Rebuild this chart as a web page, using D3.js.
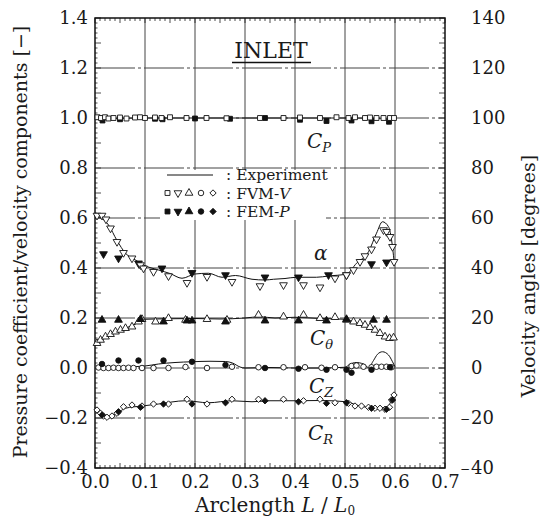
<!DOCTYPE html>
<html>
<head>
<meta charset="utf-8">
<script src="https://cdn.jsdelivr.net/npm/d3@7"></script>
<style>
  body { margin: 0; background: #fff; }
  svg text { font-family: "DejaVu Serif", serif; fill: #1a1a1a; }
</style>
</head>
<body>
<svg id="chart" width="542" height="519"></svg>
<script>
// ---- values ----
const xTicks = [0, 0.1, 0.2, 0.3, 0.4, 0.5, 0.6, 0.7];
const yTicks = [-0.4, -0.2, 0, 0.2, 0.4, 0.6, 0.8, 1.0, 1.2, 1.4];
const degTicks = [-40, -20, 0, 20, 40, 60, 80, 100, 120, 140];

// C_P
const cpExpL = [0, 0.02, 0.1, 0.3, 0.5, 0.6];
const cpExp  = [0.996, 0.998, 1.0, 1.0, 1.0, 0.999];
const cpFvmL = [0.005, 0.012, 0.02, 0.027, 0.037, 0.05, 0.063, 0.08, 0.09, 0.1, 0.12, 0.133, 0.15, 0.183, 0.223, 0.263, 0.33, 0.377, 0.41, 0.45, 0.483, 0.507, 0.52, 0.54, 0.55, 0.563, 0.577, 0.59, 0.598];
const cpFvm  = [1.003, 1.0, 1.003, 0.998, 1.0, 1.002, 0.998, 1.002, 1.003, 1.0, 1.002, 1.0, 1.003, 1.0, 1.0, 0.999, 1.0, 1.0, 1.002, 1.0, 1.003, 1.0, 1.003, 1.0, 1.002, 1.0, 1.0, 1.0, 1.0];
const cpFemL = [0.015, 0.05, 0.12, 0.135, 0.2, 0.27, 0.34, 0.41, 0.463, 0.513, 0.553, 0.588];
const cpFem  = [0.99, 0.995, 0.997, 0.995, 0.998, 0.997, 1.0, 0.993, 0.988, 0.99, 0.987, 0.985];

// alpha [degrees], right axis
const alExpL = [0.002, 0.027, 0.044, 0.061, 0.081, 0.097, 0.127, 0.15, 0.174, 0.2, 0.227, 0.254, 0.281, 0.314, 0.34, 0.357, 0.38, 0.403, 0.443, 0.467, 0.503, 0.523, 0.547, 0.563, 0.575, 0.587, 0.594, 0.598];
const alExp  = [61, 57.2, 51, 45.9, 43.2, 41.2, 39.2, 37.8, 35.9, 37.6, 37.9, 36.3, 37, 35.5, 35.2, 35.5, 35.8, 36.3, 36.3, 36.8, 37.6, 41.9, 46.5, 53.9, 58.5, 56.5, 50, 43];
const alFvmL = [0.004, 0.014, 0.022, 0.031, 0.044, 0.057, 0.074, 0.091, 0.097, 0.117, 0.147, 0.184, 0.224, 0.274, 0.33, 0.377, 0.417, 0.45, 0.48, 0.503, 0.517, 0.53, 0.54, 0.553, 0.563, 0.577, 0.583, 0.59, 0.595, 0.598];
const alFvm  = [61, 61, 59.5, 55.9, 50.5, 46.1, 43.9, 41.2, 39.9, 38.5, 36.8, 34.1, 36.5, 34.5, 32.8, 33.2, 33.2, 32.3, 35.9, 37.2, 39.2, 42.5, 44.8, 47.5, 51.5, 55.2, 54.5, 52.5, 48.5, 42.5];
const alFemL = [0.017, 0.047, 0.087, 0.134, 0.194, 0.261, 0.34, 0.407, 0.467, 0.503, 0.553, 0.583];
const alFem  = [45.6, 43.9, 41.9, 39.9, 38.1, 37.2, 36.3, 36.3, 37.2, 37.2, 41.6, 42.3];

// C_theta
const ctExpL = [0.0, 0.02, 0.05, 0.08, 0.1, 0.15, 0.2, 0.25, 0.3, 0.33, 0.36, 0.4, 0.45, 0.5, 0.523, 0.557, 0.583, 0.6];
const ctExp  = [0.09, 0.12, 0.15, 0.175, 0.195, 0.197, 0.198, 0.196, 0.2, 0.205, 0.2, 0.203, 0.198, 0.195, 0.18, 0.159, 0.125, 0.118];
const ctFvmL = [0.004, 0.011, 0.021, 0.031, 0.041, 0.051, 0.061, 0.074, 0.087, 0.094, 0.121, 0.147, 0.181, 0.224, 0.264, 0.327, 0.377, 0.417, 0.45, 0.48, 0.503, 0.517, 0.53, 0.54, 0.55, 0.56, 0.57, 0.58, 0.589, 0.597];
const ctFvm  = [0.099, 0.112, 0.125, 0.135, 0.145, 0.152, 0.159, 0.165, 0.185, 0.195, 0.185, 0.199, 0.192, 0.195, 0.192, 0.212, 0.205, 0.212, 0.199, 0.203, 0.192, 0.185, 0.179, 0.172, 0.163, 0.152, 0.139, 0.125, 0.119, 0.121];
const ctFemL = [0.014, 0.047, 0.091, 0.137, 0.184, 0.194, 0.261, 0.34, 0.407, 0.463, 0.503, 0.557, 0.583];
const ctFem  = [0.192, 0.192, 0.195, 0.185, 0.189, 0.189, 0.185, 0.189, 0.189, 0.189, 0.195, 0.192, 0.192];

// C_Z
const czExpL = [0, 0.05, 0.1, 0.127, 0.16, 0.194, 0.23, 0.261, 0.275, 0.29, 0.3, 0.35, 0.4, 0.45, 0.5, 0.51, 0.522, 0.537, 0.547, 0.557, 0.565, 0.575, 0.587, 0.595, 0.6];
const czExp  = [0.0, 0.003, 0.008, 0.016, 0.022, 0.025, 0.027, 0.026, 0.02, 0.004, 0.0, 0.002, 0.0, 0.0, 0.003, 0.015, 0.022, 0.016, 0.002, 0.03, 0.055, 0.065, 0.052, 0.025, 0.005];
const czFvmL = [0.007, 0.017, 0.027, 0.037, 0.047, 0.057, 0.067, 0.077, 0.094, 0.117, 0.147, 0.181, 0.224, 0.274, 0.327, 0.377, 0.42, 0.453, 0.48, 0.513, 0.523, 0.537, 0.553, 0.563, 0.573, 0.583, 0.593];
const czFvm  = [0.002, 0, 0, 0.001, 0, 0, 0.001, 0, 0, 0, 0, 0.004, 0, 0.005, 0.003, 0.003, 0.003, 0.001, 0.003, 0.008, 0.01, 0.005, 0.003, 0.005, 0.005, 0.005, 0.003];
const czFemL = [0.014, 0.047, 0.087, 0.137, 0.194, 0.261, 0.34, 0.407, 0.463, 0.503, 0.513, 0.553, 0.59];
const czFem  = [0.016, 0.03, 0.03, 0.03, 0.025, 0.012, 0, -0.003, -0.007, -0.007, -0.019, -0.007, 0.003];

// C_R
const crExpL = [0, 0.011, 0.027, 0.044, 0.061, 0.094, 0.127, 0.181, 0.227, 0.274, 0.314, 0.35, 0.4, 0.45, 0.503, 0.523, 0.543, 0.57, 0.583, 0.59, 0.598];
const crExp  = [-0.158, -0.181, -0.195, -0.181, -0.161, -0.152, -0.144, -0.131, -0.139, -0.131, -0.135, -0.131, -0.131, -0.13, -0.135, -0.148, -0.157, -0.165, -0.161, -0.141, -0.101];
const crFvmL = [0.004, 0.011, 0.017, 0.024, 0.034, 0.044, 0.057, 0.074, 0.094, 0.117, 0.147, 0.184, 0.224, 0.274, 0.327, 0.377, 0.417, 0.45, 0.48, 0.507, 0.52, 0.533, 0.547, 0.56, 0.57, 0.58, 0.589, 0.593, 0.598];
const crFvm  = [-0.168, -0.181, -0.192, -0.197, -0.192, -0.181, -0.155, -0.148, -0.152, -0.144, -0.144, -0.125, -0.144, -0.125, -0.125, -0.125, -0.131, -0.125, -0.139, -0.141, -0.152, -0.152, -0.157, -0.161, -0.161, -0.165, -0.157, -0.128, -0.108];
const crFemL = [0.014, 0.047, 0.091, 0.137, 0.194, 0.261, 0.34, 0.407, 0.463, 0.503, 0.553, 0.583, 0.595];
const crFem  = [-0.188, -0.175, -0.157, -0.144, -0.144, -0.139, -0.131, -0.135, -0.141, -0.139, -0.161, -0.165, -0.128];

// ---- layout ----
var svg = d3.select("#chart");
var pLeft = 95, pRight = 445, pTop = 18, pBottom = 468;

var x = d3.scaleLinear().domain([0, 0.7]).range([pLeft, pRight]);
var y = d3.scaleLinear().domain([-0.4, 1.4]).range([pBottom, pTop]);
var yDeg = d3.scaleLinear().domain([-40, 140]).range([pBottom, pTop]);

var zip = (a, b) => a.map((d, i) => [d, b[i]]);

// grid
var grid = svg.append("g").attr("stroke", "#444").attr("stroke-width", 1);
grid.selectAll(".vx").data(xTicks.slice(1, -1)).join("line")
  .attr("x1", d => x(d)).attr("x2", d => x(d))
  .attr("y1", pTop).attr("y2", pBottom);
grid.selectAll(".hy").data(yTicks.slice(1, -1)).join("line")
  .attr("x1", pLeft).attr("x2", pRight)
  .attr("y1", d => y(d)).attr("y2", d => y(d))
  .attr("stroke-dasharray", "40,3,3,3");

// minor ticks (all pointing inside)
var ticks = svg.append("g").attr("stroke", "#222").attr("stroke-width", 0.8);
var xMinor = d3.range(0, 71).map(i => i / 100);
ticks.selectAll(".bt").data(xMinor).join("line")
  .attr("x1", d => x(d)).attr("x2", d => x(d))
  .attr("y1", pBottom).attr("y2", (d, i) => pBottom - (i % 5 == 0 ? 5 : 3));
ticks.selectAll(".tt").data(xMinor).join("line")
  .attr("x1", d => x(d)).attr("x2", d => x(d))
  .attr("y1", pTop).attr("y2", (d, i) => pTop + (i % 5 == 0 ? 5 : 3));
var yMinor = d3.range(0, 91).map(i => -0.4 + i / 50);
ticks.selectAll(".lt").data(yMinor).join("line")
  .attr("y1", d => y(d)).attr("y2", d => y(d))
  .attr("x1", pLeft).attr("x2", (d, i) => pLeft + (i % 5 == 0 ? 6 : 2.5));
var degMinor = d3.range(0, 91).map(i => -40 + i * 2);
ticks.selectAll(".rt").data(degMinor).join("line")
  .attr("y1", d => yDeg(d)).attr("y2", d => yDeg(d))
  .attr("x1", pRight).attr("x2", (d, i) => pRight - (i % 5 == 0 ? 6 : 2.5));

// frame
svg.append("rect")
  .attr("x", pLeft).attr("y", pTop)
  .attr("width", pRight - pLeft).attr("height", pBottom - pTop)
  .attr("fill", "none").attr("stroke", "#111").attr("stroke-width", 1.5);

// axes (labels only)
var xAxis = svg.append("g").attr("transform", `translate(0,${pBottom})`)
  .call(d3.axisBottom(x).tickValues(xTicks).tickFormat(d3.format(".1f")).tickSize(0).tickPadding(7));
var yAxis = svg.append("g").attr("transform", `translate(${pLeft},0)`)
  .call(d3.axisLeft(y).tickValues(yTicks).tickFormat(d3.format(".1f")).tickSize(0).tickPadding(7));
var rAxis = svg.append("g").attr("transform", `translate(${pRight},0)`)
  .call(d3.axisRight(yDeg).tickValues(degTicks).tickFormat(d => Math.abs(d)).tickSize(0).tickPadding(26));
[xAxis, yAxis, rAxis].forEach(a => {
  a.select(".domain").remove();
  a.selectAll("text").attr("font-family", "DejaVu Serif").attr("font-size", 18).attr("fill", "#1a1a1a");
});
rAxis.selectAll(".tick").filter(d => d < 0).append("text")
  .attr("x", 25).attr("dy", "0.36em").attr("text-anchor", "end")
  .attr("font-size", 12).attr("fill", "#1a1a1a").text("\u2212");

// experiment lines
var lineL = d3.line().x(d => x(d[0])).y(d => y(d[1])).curve(d3.curveMonotoneX);
var lineD = d3.line().x(d => x(d[0])).y(d => yDeg(d[1])).curve(d3.curveMonotoneX);
var exp = svg.append("g").attr("fill", "none").attr("stroke", "#111").attr("stroke-width", 1);
exp.append("path").attr("d", lineL(zip(cpExpL, cpExp)));
exp.append("path").attr("d", lineD(zip(alExpL, alExp)));
exp.append("path").attr("d", lineL(zip(ctExpL, ctExp)));
exp.append("path").attr("d", lineL(zip(czExpL, czExp)));
exp.append("path").attr("d", lineL(zip(crExpL, crExp)));

// markers
var shapes = {
  square:   { type: d3.symbolSquare,   size: 24, rot: 0 },
  down:     { type: d3.symbolTriangle, size: 26, rot: 180 },
  up:       { type: d3.symbolTriangle, size: 26, rot: 0 },
  circle:   { type: d3.symbolCircle,   size: 24, rot: 0 },
  diamond:  { type: d3.symbolSquare,   size: 20, rot: 45 }
};
function markers(g, pts, shape, filled) {
  var s = shapes[shape];
  g.selectAll(null).data(pts).join("path")
    .attr("d", d3.symbol().type(s.type).size(s.size))
    .attr("transform", d => `translate(${d[0]},${d[1]}) rotate(${s.rot})`)
    .attr("fill", filled ? "#111" : "#fff")
    .attr("stroke", "#111").attr("stroke-width", 0.9);
}
var pL = (a, b) => a.map((d, i) => [x(d), y(b[i])]);
var pD = (a, b) => a.map((d, i) => [x(d), yDeg(b[i])]);
var mk = svg.append("g");
markers(mk.append("g"), pL(cpFemL, cpFem), "square", true);
markers(mk.append("g"), pL(cpFvmL, cpFvm), "square", false);
markers(mk.append("g"), pD(alFemL, alFem), "down", true);
markers(mk.append("g"), pD(alFvmL, alFvm), "down", false);
markers(mk.append("g"), pL(ctFvmL, ctFvm), "up", false);
markers(mk.append("g"), pL(ctFemL, ctFem), "up", true);
markers(mk.append("g"), pL(czFvmL, czFvm), "circle", false);
markers(mk.append("g"), pL(czFemL, czFem), "circle", true);
markers(mk.append("g"), pL(crFvmL, crFvm), "diamond", false);
markers(mk.append("g"), pL(crFemL, crFem), "diamond", true);

// legend
var lg = svg.append("g");
lg.append("rect").attr("x", 160).attr("y", 170).attr("width", 166).attr("height", 50).attr("fill", "#fff");
lg.append("line").attr("x1", 167).attr("x2", 213).attr("y1", 175).attr("y2", 175)
  .attr("stroke", "#111").attr("stroke-width", 1);
var lgShapes = ["square", "down", "up", "circle", "diamond"];
var lgX = [167.5, 178, 189, 201, 213];
lgShapes.forEach((s, i) => {
  markers(lg.append("g"), [[lgX[i], 193]], s, false);
  markers(lg.append("g"), [[lgX[i], 211.5]], s, true);
});
var lgText = [["Experiment", ""], ["FVM-", "V"], ["FEM-", "P"]];
lgText.forEach((t, i) => {
  var tx = lg.append("text").attr("x", 226).attr("y", 180 + i * 18.5).attr("font-size", 15.5);
  tx.append("tspan").text(": " + t[0]);
  if (t[1]) tx.append("tspan").attr("font-style", "italic").text(t[1]);
});

// title
svg.append("text").attr("x", 271).attr("y", 58).attr("text-anchor", "middle")
  .attr("font-size", 22).text("INLET");
svg.append("line").attr("x1", 232).attr("x2", 311).attr("y1", 62.5).attr("y2", 62.5)
  .attr("stroke", "#111").attr("stroke-width", 1.5);

// curve labels
function curveLabel(px, py, main, sub) {
  var t = svg.append("text").attr("x", px).attr("y", py).attr("font-size", 20).attr("font-style", "italic");
  t.append("tspan").text(main);
  if (sub) t.append("tspan").attr("font-size", 13).attr("dy", 4).text(sub);
}
curveLabel(307, 148, "C", "P");
curveLabel(314, 260, "\u03b1", "");
curveLabel(310, 345, "C", "\u03b8");
curveLabel(309, 393, "C", "Z");
curveLabel(308, 440, "C", "R");

// axis titles
var xt = svg.append("text").attr("x", 275).attr("y", 512).attr("text-anchor", "middle").attr("font-size", 20);
xt.append("tspan").text("Arclength  ");
xt.append("tspan").attr("font-style", "italic").text("L");
xt.append("tspan").text(" / ");
xt.append("tspan").attr("font-style", "italic").text("L");
xt.append("tspan").attr("font-size", 12).attr("dy", 3).text("0");

svg.append("text").attr("transform", "translate(27,242) rotate(-90)")
  .attr("text-anchor", "middle").attr("font-size", 19)
  .text("Pressure coefficient/velocity components [\u2212]");
svg.append("text").attr("transform", "translate(535,276) rotate(-90)")
  .attr("text-anchor", "middle").attr("font-size", 19)
  .text("Velocity angles [degrees]");
</script>
</body>
</html>
